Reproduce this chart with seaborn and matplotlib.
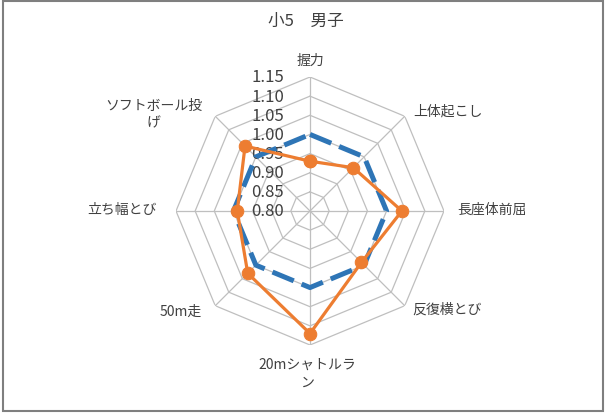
import numpy as np
import pandas as pd
import matplotlib
matplotlib.use("Agg")
import matplotlib.pyplot as plt
import matplotlib.transforms as mtransforms
from matplotlib.patches import Rectangle
import seaborn as sns

# ---- data ----
categories = ["握力", "上体起こし", "長座体前屈", "反復横とび",
              "20mシャトルラン", "50m走", "立ち幅とび", "ソフトボール投げ"]
display_labels = ["握力", "上体起こし", "長座体前屈", "反復横とび",
                  "20mシャトルラ\nン", "50m走", "立ち幅とび", "ソフトボール投\nげ"]
national = [1.00, 1.00, 1.00, 1.00, 1.00, 1.00, 1.00, 1.00]
school = [0.93, 0.96, 1.04, 0.99, 1.12, 1.03, 0.99, 1.04]
r_ticks = [0.80, 0.85, 0.90, 0.95, 1.00, 1.05, 1.10, 1.15]
title = "小5　男子"

sns.set_theme(style="white")
plt.rcParams['font.family'] = ['Noto Sans CJK JP', 'DejaVu Sans']

W, H, DPI = 606, 414, 100
fig = plt.figure(figsize=(W / DPI, H / DPI), dpi=DPI)
fig.patch.set_facecolor("white")

cx, cy, R = 310, 212, 134
ax = fig.add_axes([(cx - R) / W, (H - cy - R) / H, 2 * R / W, 2 * R / H],
                  projection="polar")
ax.set_theta_zero_location("N")
ax.set_theta_direction(-1)
ax.set_ylim(r_ticks[0], r_ticks[-1])
ax.grid(False)
ax.spines["polar"].set_visible(False)
ax.set_xticks([])
ax.set_yticks([])
ax.set_facecolor("none")

n = len(categories)
theta = np.arange(n) * 2 * np.pi / n
theta_c = np.append(theta, theta[0])

# polygon grid
grid_col = "#BFBFBF"
for rv in r_ticks[1:]:
    ax.plot(theta_c, [rv] * (n + 1), color=grid_col, lw=0.9, zorder=1)
for t in theta:
    ax.plot([t, t], [r_ticks[0], r_ticks[-1]], color=grid_col, lw=0.9, zorder=1)

# data lines
df_nat = pd.DataFrame({"theta": theta_c, "value": national + national[:1]})
df_sch = pd.DataFrame({"theta": theta_c, "value": school + school[:1]})

sns.lineplot(data=df_nat, x="theta", y="value", sort=False, ax=ax,
             color="#2E75B6", lw=3.6, estimator=None, zorder=3)
ax.lines[-1].set_linestyle((0, (4.6, 1.7)))
sns.lineplot(data=df_sch, x="theta", y="value", sort=False, ax=ax,
             color="#ED7D31", lw=2.3, marker="o", markersize=9,
             markeredgecolor="#ED7D31", estimator=None, zorder=4)
ax.set_xlabel("")
ax.set_ylabel("")
ax.set_ylim(r_ticks[0], r_ticks[-1])

# radial tick labels
off = mtransforms.offset_copy(ax.transData, fig=fig, x=-26, y=0, units="dots")
for rv in r_ticks:
    ax.text(0, rv, f"{rv:.2f}", transform=off, ha="right", va="center",
            fontsize=12, color="#404040", zorder=2)

# category labels
placements = [
    (0, 17, "center", "center"),
    (8, 6, "left", "center"),
    (13, 2, "left", "center"),
    (8, -3, "left", "center"),
    (-3, -12, "center", "top"),
    (-13, -5, "right", "center"),
    (-19, 2, "right", "center"),
    (-13, 3, "right", "center"),
]
for t, lab, (dx, dy, ha, va) in zip(theta, display_labels, placements):
    tr = mtransforms.offset_copy(ax.transData, fig=fig, x=dx, y=dy, units="dots")
    ax.text(t, r_ticks[-1], lab, transform=tr, ha=ha, va=va,
            fontsize=10, color="#404040", multialignment="center",
            linespacing=1.3)

fig.text(306 / W, 1 - 21 / H, title, ha="center", va="center",
         fontsize=12, color="#404040")

fig.patches.append(Rectangle((3 / W, 2 / H), (W - 6) / W, (H - 4) / H,
                             transform=fig.transFigure, fill=False,
                             edgecolor="#7F7F7F", lw=1.5))

fig.savefig("out.png", dpi=DPI)
